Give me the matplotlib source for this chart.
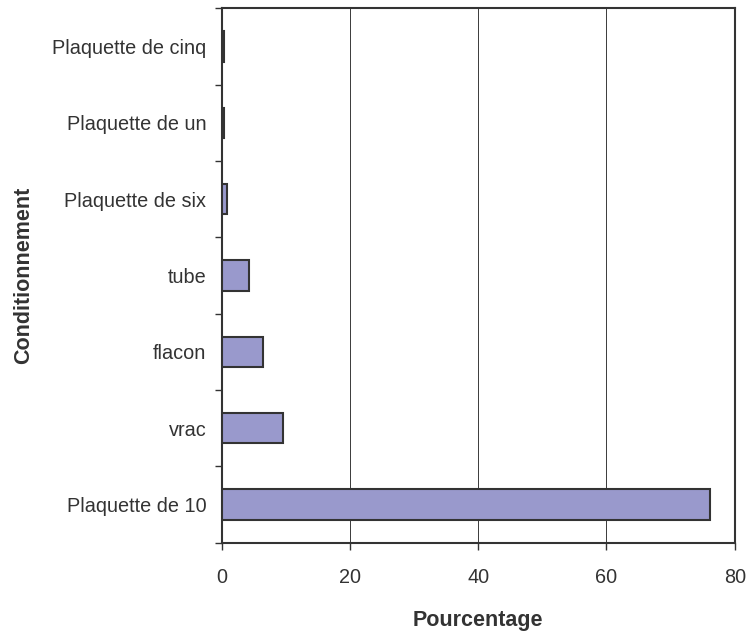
import matplotlib
matplotlib.use("Agg")
import matplotlib.pyplot as plt
import numpy as np

# Packaging types (bottom to top) and their share in percent
categories = ["Plaquette de 10", "vrac", "flacon", "tube",
              "Plaquette de six", "Plaquette de un", "Plaquette de cinq"]
values = [76.1, 9.6, 6.5, 4.3, 0.8, 0.3, 0.3]
x_ticks = [0, 20, 40, 60, 80]

plt.rcParams["font.family"] = ["Liberation Sans", "DejaVu Sans"]
text_color = "#333333"

fig = plt.figure(figsize=(7.51, 6.35), dpi=100)
ax = fig.add_axes([0.2952, 0.1454, 0.9783 - 0.2952, 0.987 - 0.1454])

y = np.arange(len(categories))
ax.barh(y, values, height=0.4, color="#9999cc", edgecolor="#333333",
        linewidth=1.5, zorder=3)

ax.set_xlim(0, 80)
ax.set_ylim(-0.5, len(categories) - 0.5)
ax.set_xticks(x_ticks)
ax.set_xticklabels([str(t) for t in x_ticks])
ax.set_yticks(y)
ax.set_yticklabels(categories)
ax.set_yticks(np.arange(-0.5, len(categories), 1.0), minor=True)

ax.grid(axis="x", color="#3a3a3a", linewidth=0.7, zorder=0)
ax.tick_params(axis="y", which="major", length=0, pad=11,
               labelsize=14.3, labelcolor=text_color)
ax.tick_params(axis="y", which="minor", length=5, width=1.0,
               color="#333333", direction="out")
ax.tick_params(axis="x", which="major", length=5, width=1.0,
               color="#333333", direction="out", pad=13.5,
               labelsize=14.3, labelcolor=text_color)

for side in ["left", "right", "top", "bottom"]:
    ax.spines[side].set_color("#333333")
    ax.spines[side].set_linewidth(1.5)

ax.set_xlabel("Pourcentage", fontsize=15.5, fontweight="bold",
              color=text_color, labelpad=16)
ax.set_ylabel("Conditionnement", fontsize=15.5, fontweight="bold",
              color=text_color)
ax.yaxis.set_label_coords(-0.366, 0.5)

fig.savefig("out.png", dpi=100)
